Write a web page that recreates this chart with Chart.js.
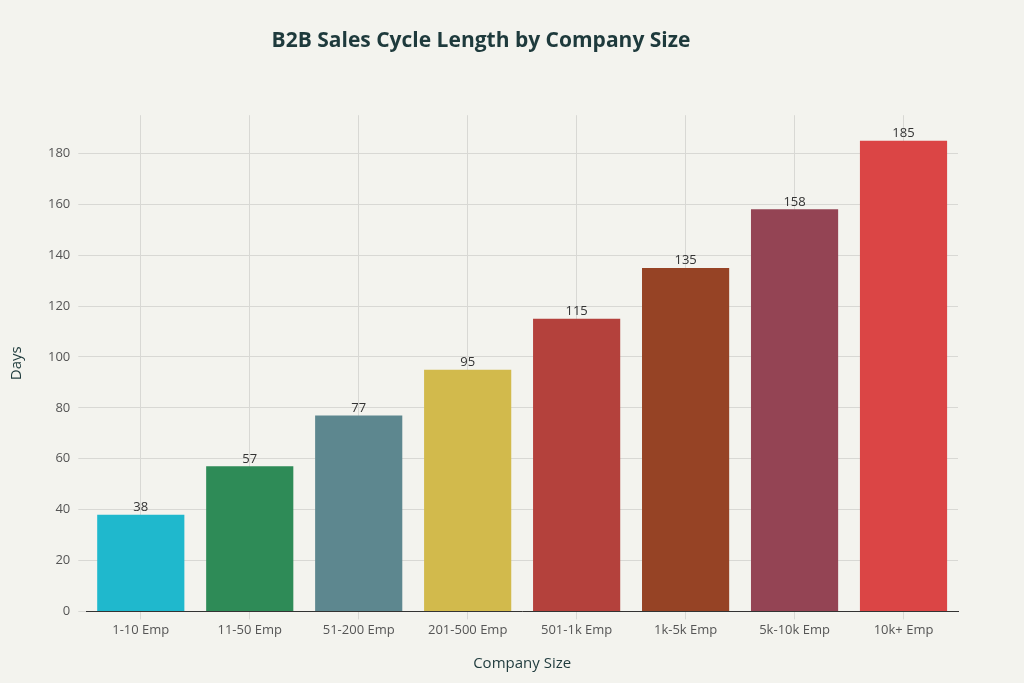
<!DOCTYPE html>
<html><head><meta charset="utf-8">
<script src="https://cdn.jsdelivr.net/npm/chart.js@4"></script>
<style>html,body{margin:0;background:#f3f3ee;}#w{width:1024px;height:683px;}</style>
</head><body><div id="w"><canvas id="c"></canvas></div>
<script>
const categories=["1-10 Emp","11-50 Emp","51-200 Emp","201-500 Emp","501-1k Emp","1k-5k Emp","5k-10k Emp","10k+ Emp"];
const days=[38,57,77,95,115,135,158,185];
const colors=["#1fb8cd","#2e8b57","#5d878f","#d2ba4c","#b4413c","#964325","#944454","#db4545"];
const yTicks=[0,20,40,60,80,100,120,140,160,180];
const labelPlugin={id:'lbl',afterDatasetsDraw(ch){const ctx=ch.ctx;const m=ch.getDatasetMeta(0);ctx.save();ctx.font='13px "Open Sans"';ctx.fillStyle='#333';ctx.textAlign='center';ctx.textBaseline='bottom';m.data.forEach((b,i)=>ctx.fillText(days[i],b.x,b.y-1));ctx.restore();}};
new Chart(document.getElementById('c'),{type:'bar',
data:{labels:categories,datasets:[{data:days,backgroundColor:colors,barPercentage:0.8,categoryPercentage:1}]},
options:{responsive:true,maintainAspectRatio:false,animation:false,
layout:{padding:{left:4,right:66,top:0,bottom:6}},
plugins:{legend:{display:false},tooltip:{enabled:false},
title:{display:true,text:'B2B Sales Cycle Length by Company Size',color:'#1e3a3c',font:{family:'"Open Sans"',size:21,weight:'bold'},padding:{top:28,bottom:62}}},
scales:{x:{grid:{color:'#d8d8d4',offset:false},border:{color:'#333'},ticks:{color:'#555',font:{family:'"Open Sans"',size:13}},
title:{display:true,text:'Company Size',color:'#1e3a3c',font:{family:'"Open Sans"',size:15},padding:{top:14}}},
y:{min:0,max:195,afterBuildTicks(a){a.ticks=yTicks.map(v=>({value:v}));},grid:{color:'#d8d8d4'},border:{display:false},ticks:{color:'#555',font:{family:'"Open Sans"',size:13},padding:8},
title:{display:true,text:'Days',color:'#1e3a3c',font:{family:'"Open Sans"',size:15},padding:{bottom:14}}}}},
plugins:[labelPlugin]});
</script></body></html>
